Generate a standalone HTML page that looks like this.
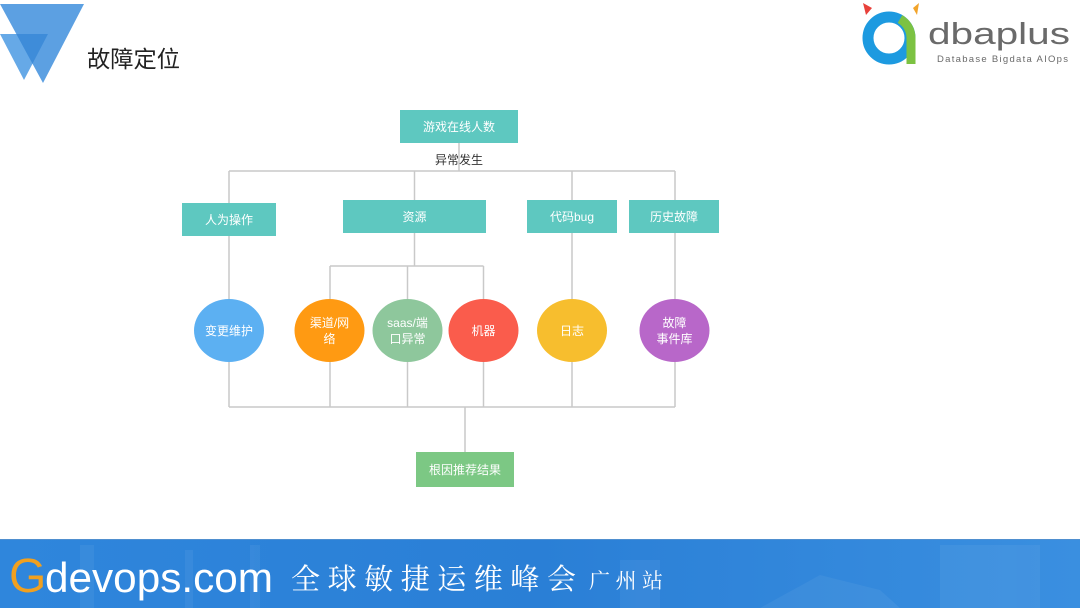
<!DOCTYPE html>
<html><head><meta charset="utf-8">
<style>
html,body{margin:0;padding:0;background:#fff;}
body{width:1080px;height:608px;overflow:hidden;}
svg{display:block;}
.t{font-family:"Liberation Sans","Noto Sans CJK SC",sans-serif;}
</style></head>
<body>
<svg width="1080" height="608" viewBox="0 0 1080 608" xmlns="http://www.w3.org/2000/svg">
<defs>
<linearGradient id="fg" x1="0" y1="0" x2="1" y2="0">
<stop offset="0" stop-color="#2f86dc"/>
<stop offset="0.5" stop-color="#2a7fd6"/>
<stop offset="1" stop-color="#3a8fe0"/>
</linearGradient>
</defs>
<rect width="1080" height="608" fill="#ffffff"/>

<!-- header triangles -->
<polygon points="0,4 84,4 43,83" fill="#5ca0e2"/>
<polygon points="0,34 48,34 24,80" fill="#66a9e7"/>
<polygon points="16.3,34 48,34 32.5,63.7" fill="#3e8cd9"/>
<text x="87" y="67" font-size="23" fill="#222" font-family="'Noto Sans CJK SC','WenQuanYi Zen Hei',sans-serif" textLength="93" lengthAdjust="spacingAndGlyphs">故障定位</text>

<!-- dbaplus logo -->
<polygon points="863,3 872,8 866,15" fill="#e8403a"/>
<polygon points="919,3 913,8 917,15" fill="#f2a42a"/>
<circle cx="889" cy="38" r="21" fill="none" stroke="#1d9ae0" stroke-width="11"/>
<path d="M 900 19 A 22 22 0 0 1 911 38 L 911 64" fill="none" stroke="#7cc242" stroke-width="9"/>
<text x="928" y="44" font-size="31" fill="#6a6a6a" class="t" textLength="142" lengthAdjust="spacingAndGlyphs">dbaplus</text>
<text x="937" y="62" font-size="9.5" fill="#6a6a6a" class="t" textLength="131" lengthAdjust="spacing">Database  Bigdata  AIOps</text>

<!-- connectors -->
<g stroke="#c9c9c9" stroke-width="1.5" fill="none">
<line x1="459" y1="143" x2="459" y2="171"/>
<line x1="229" y1="171" x2="675" y2="171"/>
<line x1="229" y1="171" x2="229" y2="407"/>
<line x1="414.5" y1="171" x2="414.5" y2="266"/>
<line x1="572" y1="171" x2="572" y2="407"/>
<line x1="675" y1="171" x2="675" y2="407"/>
<line x1="330" y1="266" x2="483.5" y2="266"/>
<line x1="330" y1="266" x2="330" y2="407"/>
<line x1="407.5" y1="266" x2="407.5" y2="407"/>
<line x1="483.5" y1="266" x2="483.5" y2="407"/>
<line x1="229" y1="407" x2="675" y2="407"/>
<line x1="465" y1="407" x2="465" y2="452"/>
</g>

<!-- boxes -->
<g class="t" font-size="12" fill="#fff" text-anchor="middle">
<rect x="400" y="110" width="118" height="33" fill="#5ec8c0"/>
<text x="459" y="131">游戏在线人数</text>
<rect x="182" y="203" width="94" height="33" fill="#5ec8c0"/>
<text x="229" y="224">人为操作</text>
<rect x="343" y="200" width="143" height="33" fill="#5ec8c0"/>
<text x="414.5" y="221">资源</text>
<rect x="527" y="200" width="90" height="33" fill="#5ec8c0"/>
<text x="572" y="221">代码bug</text>
<rect x="629" y="200" width="90" height="33" fill="#5ec8c0"/>
<text x="674" y="221">历史故障</text>
<rect x="416" y="452" width="98" height="35" fill="#7cc884"/>
<text x="465" y="474">根因推荐结果</text>
</g>

<text x="459" y="164" class="t" font-size="12" fill="#333" text-anchor="middle">异常发生</text>

<!-- circles -->
<ellipse cx="229" cy="330.5" rx="35" ry="31.5" fill="#5cb0f2"/>
<ellipse cx="329.5" cy="330.5" rx="35" ry="31.5" fill="#ff9a12"/>
<ellipse cx="407.5" cy="330.5" rx="35" ry="31.5" fill="#8ec79c"/>
<ellipse cx="483.5" cy="330.5" rx="35" ry="31.5" fill="#fa5c4c"/>
<ellipse cx="572" cy="330.5" rx="35" ry="31.5" fill="#f7be2e"/>
<ellipse cx="674.5" cy="330.5" rx="35" ry="31.5" fill="#b867c9"/>
<g class="t" font-size="12" fill="#fff" text-anchor="middle">
<text x="229" y="335">变更维护</text>
<text x="329.5" y="327">渠道/网</text>
<text x="329.5" y="343">络</text>
<text x="407.5" y="327">saas/端</text>
<text x="407.5" y="343">口异常</text>
<text x="483.5" y="335">机器</text>
<text x="572" y="335">日志</text>
<text x="674.5" y="327">故障</text>
<text x="674.5" y="343">事件库</text>
</g>

<!-- footer -->
<rect x="0" y="539" width="1080" height="69" fill="url(#fg)"/>
<line x1="0" y1="539.5" x2="1080" y2="539.5" stroke="#4f8fcf" stroke-width="1"/>
<g fill="#ffffff" opacity="0.05">
<rect x="80" y="545" width="14" height="63"/>
<rect x="185" y="550" width="8" height="58"/>
<rect x="250" y="545" width="10" height="63"/>
<rect x="620" y="560" width="40" height="48"/>
<polygon points="760,608 820,575 880,590 900,608"/>
<rect x="940" y="545" width="100" height="63"/>
</g>
<text x="9" y="592" font-size="48" fill="#f0a020" class="t">G</text>
<text x="45" y="592" font-size="42" fill="#ffffff" class="t" textLength="228" lengthAdjust="spacingAndGlyphs">devops.com</text>
<text x="291" y="589" font-size="29" fill="#ffffff" font-family="'Noto Serif CJK SC','Liberation Serif',serif" textLength="285" lengthAdjust="spacing">全球敏捷运维峰会</text>
<text x="589" y="588" font-size="21" fill="#ffffff" font-family="'Noto Serif CJK SC','Liberation Serif',serif" textLength="74" lengthAdjust="spacing">广州站</text>
</svg>
</body></html>
